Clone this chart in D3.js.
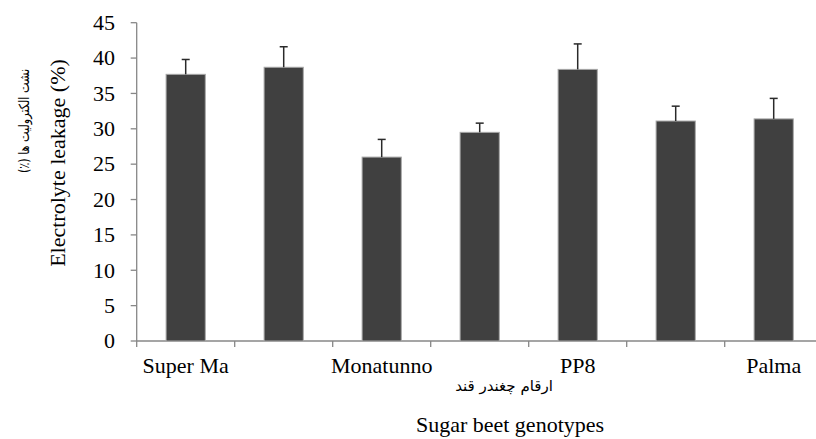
<!DOCTYPE html>
<html>
<head>
<meta charset="utf-8">
<script src="https://cdn.jsdelivr.net/npm/d3@7"></script>
<style>
  body { margin: 0; background: #fff; }
  svg text { font-family: "Liberation Serif", Tinos, "Times New Roman", Times, serif; fill: #000; }
  svg text.fa { font-family: "DejaVu Sans", sans-serif; }
</style>
</head>
<body>
<div id="chart"></div>
<script>
// data
const genotypes = ["Super Ma", "G2", "Monatunno", "G4", "PP8", "G6", "Palma"];
const shownLabels = ["Super Ma", "", "Monatunno", "", "PP8", "", "Palma"];
const leakage = [37.7, 38.7, 26.0, 29.5, 38.4, 31.1, 31.4];
const errors = [2.1, 2.9, 2.5, 1.3, 3.6, 2.1, 2.9];
const yTicks = [0, 5, 10, 15, 20, 25, 30, 35, 40, 45];

drawChart();

function drawChart(){
    const width = 816, height = 439;
    const left = 136.7, right = 822.7, top = 22.7, bottom = 341;

    const svg = d3.select("#chart")
        .append("svg")
        .attr("width", width)
        .attr("height", height);

    const x = d3.scaleBand()
        .domain(genotypes)
        .range([left, right])
        .paddingInner(0.6)
        .paddingOuter(0.3);

    const y = d3.scaleLinear()
        .domain([0, 45])
        .range([bottom, top]);

    const axisColor = "#878787";

    // y axis
    svg.append("line")
        .attr("x1", left).attr("x2", left)
        .attr("y1", y(0)).attr("y2", y(45))
        .attr("stroke", axisColor).attr("stroke-width", 1.3);

    svg.selectAll(".ytick")
        .data(yTicks)
        .join("line")
        .attr("x1", left - 6).attr("x2", left)
        .attr("y1", d => y(d)).attr("y2", d => y(d))
        .attr("stroke", axisColor).attr("stroke-width", 1.3);

    svg.selectAll(".ylabel")
        .data(yTicks)
        .join("text")
        .attr("x", 115)
        .attr("y", d => y(d))
        .attr("dy", "0.33em")
        .attr("text-anchor", "end")
        .style("font-size", "22px")
        .text(d => d);

    // x axis with ticks between categories
    svg.append("line")
        .attr("x1", left).attr("x2", right)
        .attr("y1", y(0)).attr("y2", y(0))
        .attr("stroke", axisColor).attr("stroke-width", 1.3);

    const step = x.step();
    const bounds = genotypes.map(g => x(g) + x.bandwidth() / 2 - step / 2);
    svg.selectAll(".xtick")
        .data(bounds)
        .join("line")
        .attr("x1", d => d).attr("x2", d => d)
        .attr("y1", y(0)).attr("y2", y(0) + 6)
        .attr("stroke", axisColor).attr("stroke-width", 1.3);

    // bars
    svg.selectAll(".bar")
        .data(genotypes)
        .join("rect")
        .attr("x", g => x(g))
        .attr("y", (g, i) => y(leakage[i]))
        .attr("width", x.bandwidth())
        .attr("height", (g, i) => y(0) - y(leakage[i]))
        .attr("fill", "#404040")
        .attr("stroke", "#a8a8a8")
        .attr("stroke-width", 1);

    // error bars (upper only)
    svg.selectAll(".err")
        .data(genotypes)
        .join("line")
        .attr("x1", g => x(g) + x.bandwidth() / 2)
        .attr("x2", g => x(g) + x.bandwidth() / 2)
        .attr("y1", (g, i) => y(leakage[i]))
        .attr("y2", (g, i) => y(leakage[i] + errors[i]))
        .attr("stroke", "#2a2a2a").attr("stroke-width", 1.5);

    svg.selectAll(".cap")
        .data(genotypes)
        .join("line")
        .attr("x1", g => x(g) + x.bandwidth() / 2 - 4)
        .attr("x2", g => x(g) + x.bandwidth() / 2 + 4)
        .attr("y1", (g, i) => y(leakage[i] + errors[i]))
        .attr("y2", (g, i) => y(leakage[i] + errors[i]))
        .attr("stroke", "#2a2a2a").attr("stroke-width", 1.5);

    // category labels (every other one is shown)
    svg.selectAll(".xlabel")
        .data(genotypes)
        .join("text")
        .attr("x", g => x(g) + x.bandwidth() / 2)
        .attr("y", 373.3)
        .attr("text-anchor", "middle")
        .style("font-size", "22px")
        .text((g, i) => shownLabels[i]);

    // axis titles
    svg.append("text")
        .attr("class", "fa")
        .attr("x", 504)
        .attr("y", 391)
        .attr("text-anchor", "middle")
        .attr("direction", "rtl")
        .style("font-size", "15px")
        .text("ارقام چغندر قند");

    svg.append("text")
        .attr("x", 510)
        .attr("y", 431.7)
        .attr("text-anchor", "middle")
        .style("font-size", "22px")
        .text("Sugar beet genotypes");

    svg.append("text")
        .attr("transform", "translate(65,163) rotate(-90)")
        .attr("text-anchor", "middle")
        .style("font-size", "22px")
        .text("Electrolyte leakage (%)");

    svg.append("text")
        .attr("class", "fa")
        .attr("transform", "translate(29,121) rotate(-90) scale(0.8,1)")
        .attr("text-anchor", "middle")
        .attr("direction", "rtl")
        .style("font-size", "14px")
        .text("نشت الکترولیت ها (٪)");
}
</script>
</body>
</html>
